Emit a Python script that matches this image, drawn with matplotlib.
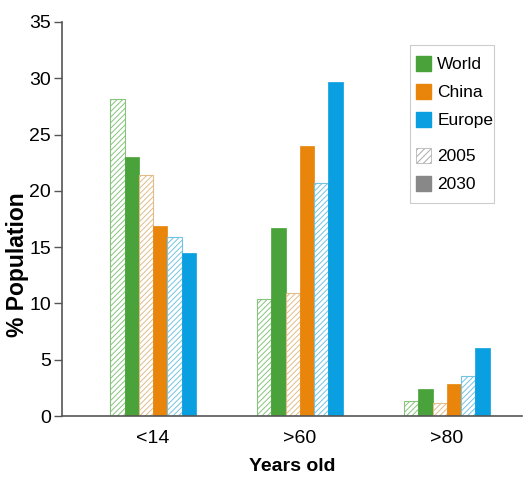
import matplotlib
matplotlib.use("Agg")
import matplotlib.pyplot as plt
import numpy as np
from matplotlib.patches import Patch, Rectangle

categories = ["<14", ">60", ">80"]
regions = ["World", "China", "Europe"]
values_2005 = {"World": [28.2, 10.4, 1.3], "China": [21.4, 10.9, 1.15], "Europe": [15.9, 20.7, 3.55]}
values_2030 = {"World": [23.0, 16.7, 2.4], "China": [16.9, 24.0, 2.8], "Europe": [14.5, 29.7, 6.0]}
yticks = [0, 5, 10, 15, 20, 25, 30, 35]
years = ["2005", "2030"]

colors = {"World": "#4aa23a", "China": "#e8850a", "Europe": "#0a9fe0"}
light = {"World": "#86c47c", "China": "#e0bc8a", "Europe": "#74c3e4"}

plt.rcParams["hatch.linewidth"] = 0.7
font = ["Liberation Sans", "DejaVu Sans"]

W, H = 525, 480
fig = plt.figure(figsize=(W / 100, H / 100), dpi=100)
ax = fig.add_axes([0.118, 0.1333, 0.876, 0.821])

x = np.arange(len(categories))
w = 0.097
for i, r in enumerate(regions):
    off0 = (-2.5 + 2 * i) * w
    off1 = (-1.5 + 2 * i) * w
    ax.bar(x + off0, values_2005[r], width=w, facecolor="white", edgecolor=light[r],
           hatch="//////", linewidth=0.8)
    ax.bar(x + off1, values_2030[r], width=w, color=colors[r], edgecolor=colors[r], linewidth=0.5)

ax.set_xlim(-0.62, 2.51)
ax.set_ylim(0, 35)
ax.set_yticks(yticks)
ax.set_yticklabels([str(t) for t in yticks], family=font, fontsize=14)
ax.set_xticks(x)
ax.set_xticklabels(categories, family=font, fontsize=14)
ax.tick_params(axis="x", length=0, pad=10)
ax.tick_params(axis="y", length=6, width=1, color="#555555", pad=2)
for s in ["top", "right"]:
    ax.spines[s].set_visible(False)
for s in ["left", "bottom"]:
    ax.spines[s].set_color("#555555")
    ax.spines[s].set_linewidth(1.2)

ax.set_ylabel("% Population", family=font, fontweight="bold", fontsize=16.5)
ax.yaxis.set_label_coords(-0.072, 0.383)
ax.set_xlabel("Years old", family=font, fontweight="bold", fontsize=14, labelpad=8)

# legend frame
frame = Rectangle((410 / W, 1 - 203 / H), 84 / W, 158 / H, transform=fig.transFigure,
                  facecolor="white", edgecolor="#cccccc", linewidth=0.8, zorder=4)
fig.patches.append(frame)

common = dict(loc="upper left", bbox_transform=fig.transFigure, prop={"family": font, "size": 12.5},
              frameon=False, handlelength=0.88, handleheight=0.95, handletextpad=0.35,
              labelspacing=0.66, borderpad=0, borderaxespad=0)
h1 = [Patch(facecolor=colors[r], edgecolor=colors[r], label=r) for r in regions]
leg1 = fig.legend(handles=h1, bbox_to_anchor=(416 / W, 1 - 56 / H), **common)
h2 = [Patch(facecolor="white", edgecolor="#aaaaaa", hatch="/////", linewidth=0.5, label=years[0]),
      Patch(facecolor="#888888", edgecolor="#888888", label=years[1])]
leg2 = fig.legend(handles=h2, bbox_to_anchor=(416 / W, 1 - 148 / H), **common)
leg1.set_zorder(5)
leg2.set_zorder(5)

fig.savefig("out.png", dpi=100)
